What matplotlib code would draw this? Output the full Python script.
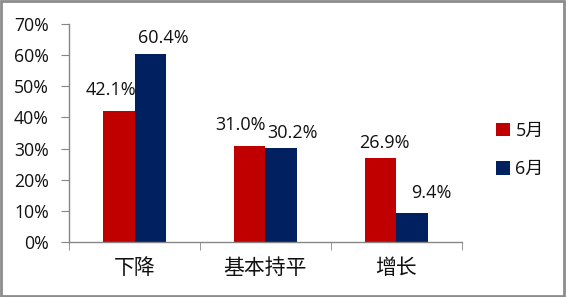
import matplotlib.pyplot as plt
import numpy as np

plt.rcParams['font.family'] = ['Open Sans', 'Noto Sans CJK SC']

categories = ['下降', '基本持平', '增长']
may = [42.1, 31.0, 26.9]
june = [60.4, 30.2, 9.4]
series_names = ['5月', '6月']
colors = ['#C00000', '#002060']

# 数据标签相对柱顶中心的偏移（像素），与原图手动摆放的位置一致
may_off = [(-8, 21), (-9.5, 21), (3.5, 15)]
june_off = [(13, 16), (11, 15), (19, 20)]

fig = plt.figure(figsize=(5.66, 2.97), dpi=100)
ax = fig.add_axes([0.122, 0.185, 0.694, 0.734])

x = np.arange(len(categories))
w = 0.24
b1 = ax.bar(x - w / 2, may, w, color=colors[0], label=series_names[0])
b2 = ax.bar(x + w / 2, june, w, color=colors[1], label=series_names[1])

for bars, vals, offs in ((b1, may, may_off), (b2, june, june_off)):
    for rect, v, (dx, dy) in zip(bars, vals, offs):
        ax.annotate('%.1f%%' % v, (rect.get_x() + rect.get_width() / 2, v),
                    xytext=(dx * 0.72, dy * 0.72), textcoords='offset points',
                    ha='center', va='center', fontsize=13, color='#111111')

ax.set_xlim(-0.5, 2.5)
ax.set_ylim(0, 70)
ax.set_yticks(range(0, 71, 10))
ax.set_yticklabels(['%d%%' % t for t in range(0, 71, 10)], fontsize=12.7, color='#111111')

# x轴：类别标签放在中间，刻度线放在分界处
ax.set_xticks(x)
ax.set_xticklabels(categories, family=['Noto Sans CJK SC'], fontsize=15, color='#111111')
ax.tick_params(axis='x', length=0, pad=11)
ax.set_xticks([-0.5, 0.5, 1.5, 2.5], minor=True)
ax.tick_params(axis='x', which='minor', length=6, color='#868686', direction='out')
ax.tick_params(axis='y', length=5.5, color='#868686', direction='out', pad=9)

for s in ['top', 'right']:
    ax.spines[s].set_visible(False)
for s in ['left', 'bottom']:
    ax.spines[s].set_color('#868686')
    ax.spines[s].set_linewidth(1)

leg = fig.legend(loc='upper left', bbox_to_anchor=(0.877, 0.59), frameon=False,
                 handlelength=0.75, handleheight=0.8, handletextpad=0.3,
                 labelspacing=1.12, borderpad=0, borderaxespad=0,
                 prop={'family': ['Open Sans', 'Noto Sans CJK SC'], 'size': 13})
for t in leg.get_texts():
    t.set_color('#111111')

# 外边框
fig.patches.append(plt.Rectangle((0.002, 0.003), 0.995, 0.992, transform=fig.transFigure,
                                 fill=False, edgecolor='#8c8c8c', linewidth=2))

plt.savefig('out.png', dpi=100)
